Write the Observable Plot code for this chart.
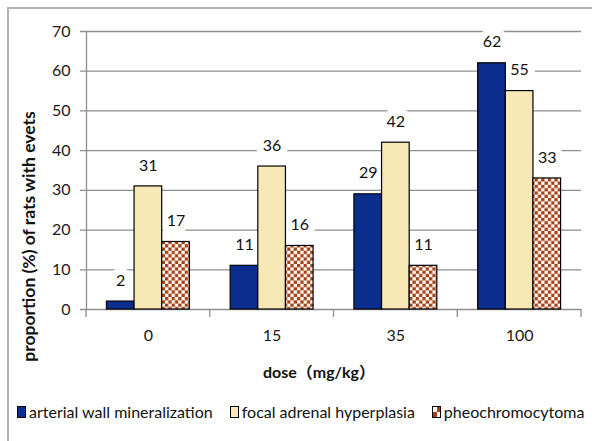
<!DOCTYPE html>
<html>
<head>
<meta charset="utf-8">
<script src="https://cdn.jsdelivr.net/npm/d3@7"></script>
<script src="https://cdn.jsdelivr.net/npm/@observablehq/plot@0.6"></script>
<style>
  html, body { margin: 0; padding: 0; background: #fff; }
  body { width: 592px; height: 441px; position: relative; overflow: hidden; font-family: Lato, "Noto Sans", sans-serif; }
  #frame { position: absolute; left: 7px; top: 7px; width: 600px; height: 450px; border: 2px solid #b3b3b3; box-sizing: border-box; }
  #chart { position: absolute; left: 0; top: 0; }
  #legend { position: absolute; left: 17px; top: 402px; display: flex; align-items: center; font-size: 16px; color: #111; white-space: nowrap; }
  .item { display: flex; align-items: center; margin-right: 17px; }
  .sw { width: 7px; height: 10px; border: 1px solid #000; margin-right: 3px; box-sizing: content-box; }
</style>
</head>
<body>
<div id="frame"></div>
<div id="chart"></div>
<div id="legend"></div>
<script>
const doses = ["0", "15", "35", "100"];
const series = ["arterial wall mineralization", "focal adrenal hyperplasia", "pheochromocytoma"];
const arterial = [2, 11, 29, 62];
const focal = [31, 36, 42, 55];
const pheo = [17, 16, 11, 33];
const yTicks = [0, 10, 20, 30, 40, 50, 60, 70];
const colors = ["#0b2d8e", "#f7e8b5", "url(#checker)"];
const yTitle = "proportion (%) of rats with evets";
const xTitle = "dose\uFF08mg/kg\uFF09";

const values = [arterial, focal, pheo];

// layout constants
const W = 592, H = 390, ML = 86, MR = 11, MT = 31, MB = 81;
const padIn = 0.33, padOut = 0.165;
const step = (W - ML - MR) / (doses.length - padIn + 2 * padOut);
const barW = step * (1 - padIn) / series.length;

const rowsFor = j => doses.map((d, i) => ({dose: d, series: series[j], value: values[j][i]}));

const labelMarks = series.map((s, j) =>
  Plot.text(rowsFor(j), {x: "dose", y: "value", text: "value", dx: (j - 1) * barW, dy: -21, fontSize: 16, fill: "#111",
    stroke: "white", strokeWidth: 14, paintOrder: "stroke"}));
const barMarks = series.map((s, j) =>
  Plot.barY(rowsFor(j), {x: "dose", y: "value", fill: "series", stroke: "#000", strokeWidth: 1.2,
    insetLeft: j * barW, insetRight: (series.length - 1 - j) * barW}));

const plot = Plot.plot({
  width: W,
  height: H,
  marginTop: MT,
  marginBottom: MB,
  marginLeft: ML,
  marginRight: MR,
  style: {fontFamily: "Lato, 'Noto Sans CJK SC', sans-serif", fontSize: "16px", color: "#222", background: "transparent"},
  x: {domain: doses, paddingInner: padIn, paddingOuter: padOut, round: false},
  y: {domain: [0, 70], ticks: yTicks},
  color: {domain: series, range: colors},
  marks: [
    Plot.ruleY(yTicks, {stroke: "#8e8e8e", strokeWidth: 1.3, insetLeft: -6}),
    Plot.frame({anchor: "left", stroke: "#8e8e8e", strokeWidth: 1.3}),
    Plot.axisY({ticks: yTicks, tickSize: 0, tickPadding: 16, label: null, fontSize: 16, fill: "#1a1a1a"}),
    Plot.axisX({tickSize: 0, tickPadding: 20, fontSize: 16, label: null, fill: "#1a1a1a"}),
    Plot.text([xTitle], {frameAnchor: "bottom", lineAnchor: "middle", textAnchor: "middle", dx: -15, dy: 63, fontWeight: "bold", fontSize: 16, fill: "#111"}),
    Plot.text([yTitle], {frameAnchor: "left", textAnchor: "middle", lineAnchor: "middle", dx: -57, dy: 66, rotate: -90, fontWeight: "bold", fontSize: 17.5, fill: "#111"}),
    ...labelMarks,
    ...barMarks
  ]
});

const svg = d3.select(plot.tagName.toLowerCase() === "svg" ? plot : plot.querySelector("svg"));
const defs = svg.insert("defs", ":first-child");
const pat = defs.append("pattern").attr("id", "checker").attr("patternUnits", "userSpaceOnUse").attr("width", 6.6).attr("height", 6.6);
pat.append("rect").attr("width", 6.6).attr("height", 6.6).attr("fill", "#fff");
pat.append("rect").attr("width", 3.3).attr("height", 3.3).attr("fill", "#a63e12");
pat.append("rect").attr("x", 3.3).attr("y", 3.3).attr("width", 3.3).attr("height", 3.3).attr("fill", "#a63e12");

// category separators below the baseline, from the x scale
const xs = plot.scale("x");
const y0 = plot.scale("y").apply(0);
const gap = xs.step - xs.bandwidth;
const bounds = doses.map(d => xs.apply(d) - gap / 2).concat([xs.apply(doses[doses.length - 1]) + xs.bandwidth + gap / 2]);
const g = svg.append("g").attr("stroke", "#8e8e8e").attr("stroke-width", 1.3);
bounds.forEach(b => g.append("line").attr("x1", b).attr("x2", b).attr("y1", y0).attr("y2", y0 + 8));

document.getElementById("chart").appendChild(plot);

const legend = d3.select("#legend");
series.forEach((s, i) => {
  const it = legend.append("div").attr("class", "item");
  const sw = it.append("div").attr("class", "sw");
  if (i < 2) sw.style("background", colors[i]);
  else sw.style("background", "repeating-conic-gradient(#a63e12 0 25%, #fff 0 50%) 0 0 / 8px 10px");
  it.append("span").text(s);
});
</script>
</body>
</html>
